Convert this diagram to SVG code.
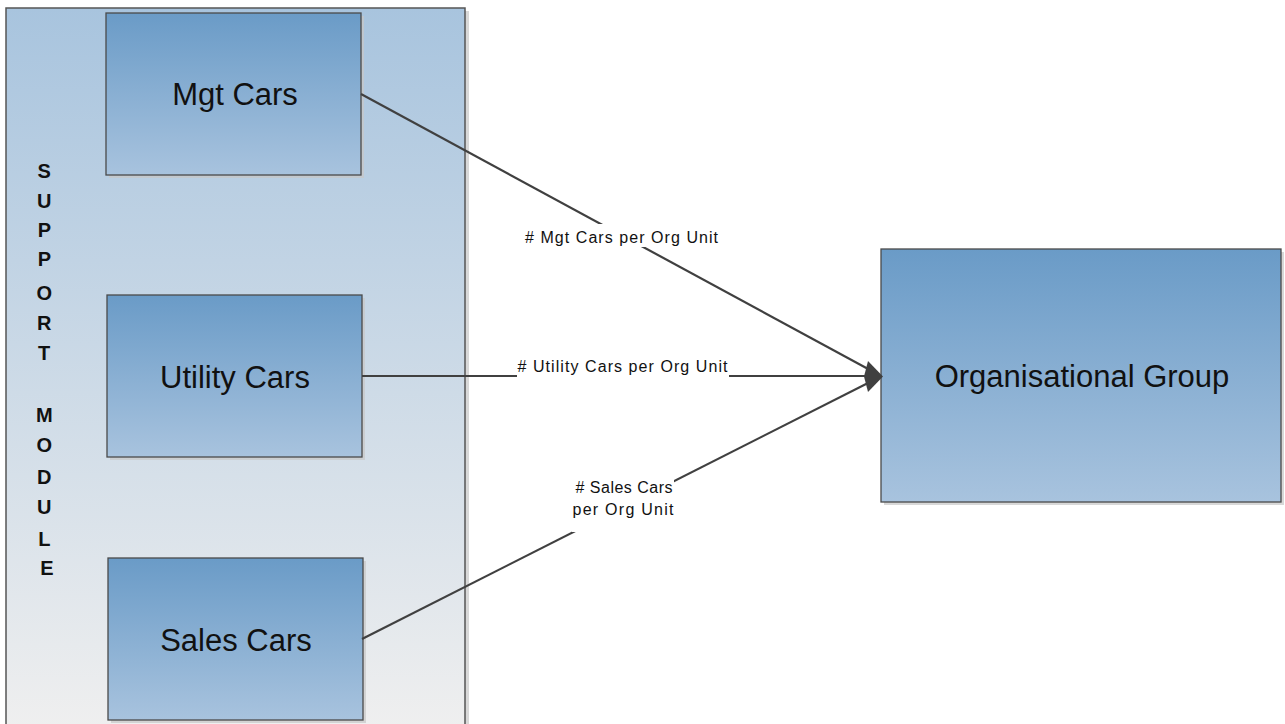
<svg xmlns="http://www.w3.org/2000/svg" width="1285" height="724" viewBox="0 0 1285 724">
<defs>
<linearGradient id="gBox" x1="0" y1="0" x2="0" y2="1">
<stop offset="0" stop-color="#6a9bc7"/>
<stop offset="1" stop-color="#a8c3de"/>
</linearGradient>
<linearGradient id="gCont" x1="0" y1="0" x2="0" y2="1">
<stop offset="0" stop-color="#a8c4de"/>
<stop offset="1" stop-color="#efefef"/>
</linearGradient>
</defs>
<style>
.box{fill:url(#gBox);stroke:#4a4a4a;stroke-width:1.3}
.shadow{fill:#c8c8c8;opacity:0.7}
.big{font-family:"Liberation Sans",Arial,sans-serif;font-size:31px;fill:#111;text-anchor:middle}
.lbl{font-family:"Liberation Sans",Arial,sans-serif;font-size:16px;fill:#111;text-anchor:middle}
.vert{font-family:"Liberation Sans",Arial,sans-serif;font-size:20px;font-weight:bold;fill:#111;text-anchor:middle}
.conn{stroke:#404040;stroke-width:2.2;fill:none}
</style>
<g id="support-module">
<rect x="9" y="11" width="460" height="720" class="shadow"/>
<rect x="6" y="8" width="459" height="720" fill="url(#gCont)" stroke="#555" stroke-width="1.5"/>
<text class="vert">
<tspan x="47" y="178">S</tspan>
<tspan x="47" y="208">U</tspan>
<tspan x="47" y="237">P</tspan>
<tspan x="47" y="266">P</tspan>
<tspan x="47" y="300">O</tspan>
<tspan x="47" y="330">R</tspan>
<tspan x="47" y="360">T</tspan>
<tspan x="47" y="422">M</tspan>
<tspan x="47" y="452">O</tspan>
<tspan x="47" y="484">D</tspan>
<tspan x="47" y="514">U</tspan>
<tspan x="47" y="546">L</tspan>
<tspan x="47" y="575">E</tspan>
</text>
</g>
<g id="mgt-cars">
<rect x="109" y="16" width="255" height="162" class="shadow"/>
<rect x="106" y="13" width="255" height="162" class="box"/>
<text x="235" y="105" class="big">Mgt Cars</text>
</g>
<g id="utility-cars">
<rect x="110" y="298" width="255" height="162" class="shadow"/>
<rect x="107" y="295" width="255" height="162" class="box"/>
<text x="235" y="388" class="big">Utility Cars</text>
</g>
<g id="sales-cars">
<rect x="111" y="561" width="255" height="162" class="shadow"/>
<rect x="108" y="558" width="255" height="162" class="box"/>
<text x="236" y="651" class="big">Sales Cars</text>
</g>
<g id="organisational-group">
<rect x="884" y="252" width="400" height="253" class="shadow"/>
<rect x="881" y="249" width="400" height="253" class="box"/>
<text x="1082" y="387" class="big">Organisational Group</text>
</g>
<g id="connectors">
<line x1="361" y1="94" x2="870" y2="370" class="conn"/>
<line x1="362" y1="376" x2="870" y2="376" class="conn"/>
<line x1="362" y1="639" x2="870" y2="382" class="conn"/>
<path d="M883,376.5 L868,361 L864,376.5 L868,392 Z" fill="#404040"/>
<rect x="524" y="224" width="195" height="23" fill="#fff"/>
<text x="621.5" y="243" class="lbl" textLength="193" lengthAdjust="spacing"># Mgt Cars per Org Unit</text>
<rect x="517" y="362" width="212" height="22" fill="#fff"/>
<text x="622.5" y="372" class="lbl" textLength="210" lengthAdjust="spacing"># Utility Cars per Org Unit</text>
<rect x="572" y="479" width="102" height="53" fill="#fff"/>
<text x="624" y="493" class="lbl" textLength="97" lengthAdjust="spacing"># Sales Cars</text>
<text x="623" y="515" class="lbl" textLength="101" lengthAdjust="spacing">per Org Unit</text>
</g>
</svg>
